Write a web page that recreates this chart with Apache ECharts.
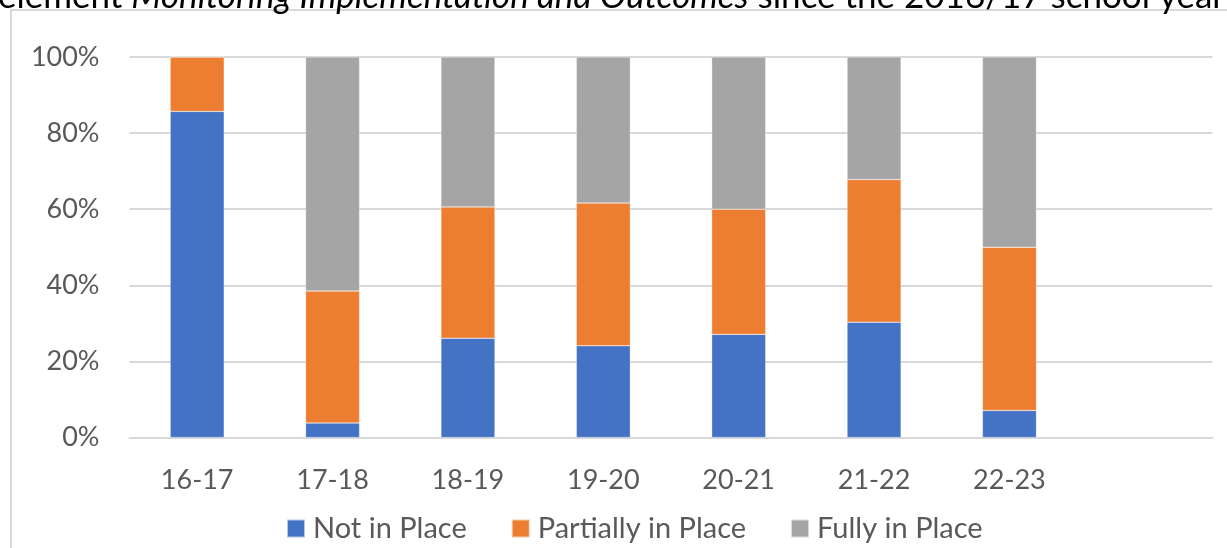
<!DOCTYPE html>
<html>
<head>
<meta charset="utf-8">
<script src="https://cdn.jsdelivr.net/npm/echarts@6/dist/echarts.min.js"></script>
<style>
html,body{margin:0;padding:0;background:#fff;}
#chart{width:1227px;height:548px;}
</style>
</head>
<body>
<div id="chart"></div>
<script>
var categories = ['16-17', '17-18', '18-19', '19-20', '20-21', '21-22', '22-23', ''];
var notInPlace = [85.7, 3.8, 26.1, 24.1, 27.1, 30.3, 7.1, '-'];
var partiallyInPlace = [14.3, 34.7, 34.5, 37.5, 32.9, 37.5, 42.9, '-'];
var fullyInPlace = [0, 61.5, 39.4, 38.4, 40.0, 32.2, 50.0, '-'];
var yTicks = [0, 20, 40, 60, 80, 100];

var FONT = 'Lato, "Open Sans", sans-serif';
var chart = echarts.init(document.getElementById('chart'));
function mk(name, data, color) {
  return {
    name: name, type: 'bar', stack: 'total', data: data,
    barWidth: 54,
    itemStyle: { color: color, borderColor: 'rgba(255,255,255,0.6)', borderWidth: 0.5 },
    emphasis: { disabled: true }
  };
}
chart.setOption({
  animation: false,
  grid: { left: 129.5, right: 14.5, top: 57, bottom: 110.5, containLabel: false },
  graphic: [
    { type: 'rect', shape: { x: 11, y: 10, width: 1400, height: 700 },
      style: { fill: 'none', stroke: '#D9D9D9', lineWidth: 2 }, silent: true },
    { type: 'text', x: -2, y: 14,
      style: {
        text: '{n|element }{i|Monitoring Implementation and Outcomes}{n| since the 2016/17 school year}',
        verticalAlign: 'bottom',
        rich: {
          n: { fontFamily: FONT, fontSize: 35, fill: '#000' },
          i: { fontFamily: FONT, fontSize: 35, fontStyle: 'italic', fill: '#000' }
        }
      }, silent: true }
  ],
  legend: {
    data: ['Not in Place', 'Partially in Place', 'Fully in Place'],
    left: 286, top: 514, padding: 0,
    icon: 'rect', itemWidth: 18, itemHeight: 18, itemGap: 44,
    textStyle: { fontFamily: FONT, fontSize: 29, color: '#595959', padding: [0, 0, 0, 3] }
  },
  xAxis: {
    type: 'category', data: categories,
    axisLine: { show: true, lineStyle: { color: '#D9D9D9', width: 2 } },
    axisTick: { show: false },
    axisLabel: { fontFamily: FONT, fontSize: 27, color: '#595959', margin: 29 }
  },
  yAxis: {
    type: 'value', min: 0, max: 100, interval: 20,
    axisLine: { show: false }, axisTick: { show: false },
    splitLine: { lineStyle: { color: '#D9D9D9', width: 2 } },
    axisLabel: { fontFamily: FONT, fontSize: 27, color: '#595959', margin: 30,
      formatter: function (v) { return yTicks.indexOf(v) >= 0 ? v + '%' : ''; } }
  },
  series: [
    mk('Not in Place', notInPlace, '#4472C4'),
    mk('Partially in Place', partiallyInPlace, '#ED7D31'),
    mk('Fully in Place', fullyInPlace, '#A5A5A5')
  ]
});
</script>
</body>
</html>
